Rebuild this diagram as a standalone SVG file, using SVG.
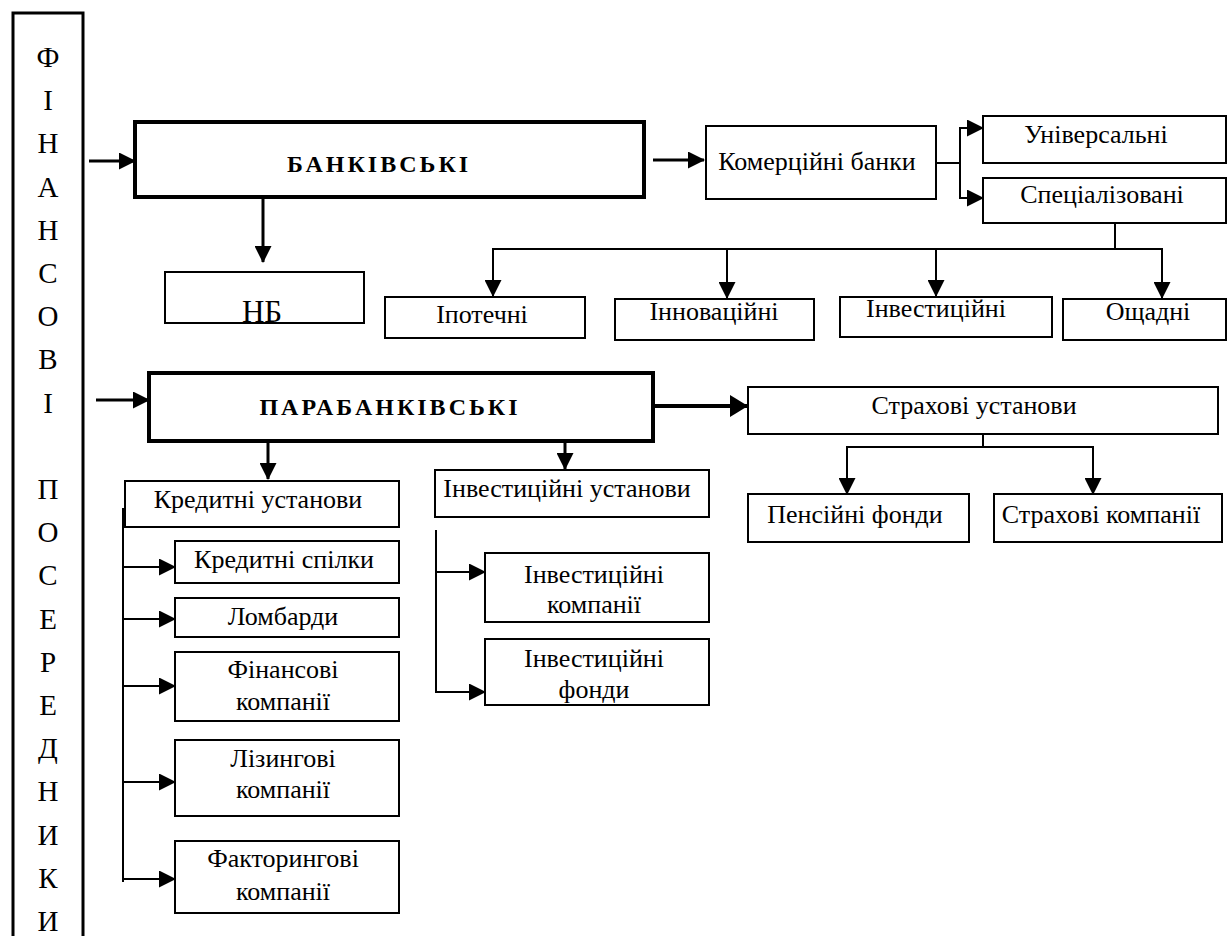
<svg xmlns="http://www.w3.org/2000/svg" width="1227" height="936" viewBox="0 0 1227 936">
<style>
.box{fill:#fff;stroke:#000;stroke-width:2}
.bbox{fill:#fff;stroke:#000;stroke-width:4}
text{font-family:'Liberation Serif','Times New Roman',Times,serif;font-size:26px;fill:#000;text-anchor:middle}
.h{font-weight:bold;font-size:24px;letter-spacing:3px}
.v{font-size:29px}
.nb{font-size:31px}
.ln{fill:none;stroke:#000;stroke-width:2}
.th{stroke-width:3}
.tk{stroke-width:4}
.a{marker-end:url(#ah)}
.ab{marker-end:url(#ahb)}
</style>
<defs>
<marker id="ah" markerUnits="userSpaceOnUse" markerWidth="17" markerHeight="17" refX="16" refY="8.5" orient="auto" viewBox="0 0 17 17"><path d="M0,0 L17,8.5 L0,17 z" fill="#000"/></marker>
<marker id="ahb" markerUnits="userSpaceOnUse" markerWidth="18" markerHeight="22" refX="17" refY="11" orient="auto" viewBox="0 0 18 22"><path d="M0,0 L18,11 L0,22 z" fill="#000"/></marker>
</defs>
<rect width="1227" height="936" fill="#fff"/>

<g id="finposerednyky" font-family="Liberation Serif, serif">
<rect x="13" y="13" width="70" height="1000" fill="#fff" stroke="#000" stroke-width="3"/>
<text class="v" x="48" y="67">Ф</text>
<text class="v" x="48" y="110">І</text>
<text class="v" x="48" y="153">Н</text>
<text class="v" x="48" y="197">А</text>
<text class="v" x="48" y="240">Н</text>
<text class="v" x="48" y="283">С</text>
<text class="v" x="48" y="326">О</text>
<text class="v" x="48" y="369">В</text>
<text class="v" x="48" y="413">І</text>
<text class="v" x="48" y="499">П</text>
<text class="v" x="48" y="542">О</text>
<text class="v" x="48" y="585">С</text>
<text class="v" x="48" y="629">Е</text>
<text class="v" x="48" y="672">Р</text>
<text class="v" x="48" y="715">Е</text>
<text class="v" x="48" y="758">Д</text>
<text class="v" x="48" y="801">Н</text>
<text class="v" x="48" y="845">И</text>
<text class="v" x="48" y="888">К</text>
<text class="v" x="48" y="931">И</text>
</g>

<g id="connectors">
<line class="ln th a" x1="89" y1="161" x2="135" y2="161"/>
<line class="ln th a" x1="96" y1="400" x2="149" y2="400"/>
<line class="ln th a" x1="263" y1="197" x2="263" y2="262"/>
<line class="ln th a" x1="653" y1="160" x2="704" y2="160"/>
<polyline class="ln" points="936,163 960,163"/>
<polyline class="ln" points="960,128 960,198"/>
<line class="ln a" x1="959" y1="128" x2="983" y2="128"/>
<line class="ln a" x1="959" y1="198" x2="983" y2="198"/>
<line class="ln" x1="1115" y1="223" x2="1115" y2="249"/>
<line class="ln" x1="492" y1="249" x2="1163" y2="249"/>
<line class="ln a" x1="493" y1="248" x2="493" y2="296"/>
<line class="ln a" x1="727" y1="248" x2="727" y2="298"/>
<line class="ln a" x1="936" y1="248" x2="936" y2="296"/>
<line class="ln a" x1="1162" y1="248" x2="1162" y2="298"/>
<line class="ln tk ab" x1="650" y1="406" x2="747" y2="406"/>
<line class="ln th a" x1="268" y1="441" x2="268" y2="479"/>
<line class="ln th a" x1="565" y1="434" x2="565" y2="469"/>
<line class="ln" x1="983" y1="434" x2="983" y2="447"/>
<line class="ln" x1="846" y1="447" x2="1094" y2="447"/>
<line class="ln a" x1="847" y1="446" x2="847" y2="494"/>
<line class="ln a" x1="1093" y1="446" x2="1093" y2="494"/>
<line class="ln" x1="123" y1="508" x2="123" y2="882"/>
<line class="ln a" x1="123" y1="567" x2="175" y2="567"/>
<line class="ln a" x1="123" y1="619" x2="175" y2="619"/>
<line class="ln a" x1="123" y1="686" x2="175" y2="686"/>
<line class="ln a" x1="123" y1="782" x2="175" y2="782"/>
<line class="ln a" x1="123" y1="879" x2="175" y2="879"/>
<line class="ln" x1="436" y1="530" x2="436" y2="693"/>
<line class="ln a" x1="436" y1="572" x2="485" y2="572"/>
<line class="ln a" x1="435" y1="692" x2="485" y2="692"/>
</g>

<g id="nodes" font-family="Liberation Serif, serif">
<g id="bankivski"><rect class="bbox" x="135" y="122" width="509" height="75"/><text class="h" x="379" y="172">БАНКІВСЬКІ</text></g>
<g id="nb"><rect class="box" x="165" y="272" width="199" height="51"/><text class="nb" x="262" y="322">НБ</text></g>
<g id="komertsiini"><rect class="box" x="706" y="126" width="230" height="73"/><text x="817" y="170">Комерційні банки</text></g>
<g id="universalni"><rect class="box" x="983" y="116" width="243" height="47"/><text x="1096" y="143">Універсальні</text></g>
<g id="spetsializovani"><rect class="box" x="983" y="178" width="243" height="45"/><text x="1102" y="203">Спеціалізовані</text></g>
<g id="ipotechni"><rect class="box" x="385" y="297" width="200" height="41"/><text x="482" y="323">Іпотечні</text></g>
<g id="innovatsiini"><rect class="box" x="615" y="299" width="199" height="41"/><text x="714" y="320">Інноваційні</text></g>
<g id="investytsiini"><rect class="box" x="840" y="297" width="212" height="40"/><text x="936" y="317">Інвестиційні</text></g>
<g id="oshchadni"><rect class="box" x="1063" y="299" width="163" height="41"/><text x="1148" y="320">Ощадні</text></g>
<g id="parabankivski"><rect class="bbox" x="149" y="373" width="504" height="68"/><text class="h" x="390" y="415">ПАРАБАНКІВСЬКІ</text></g>
<g id="strakhovi-ustanovy"><rect class="box" x="748" y="387" width="470" height="47"/><text x="974" y="414">Страхові установи</text></g>
<g id="kredytni-ustanovy"><rect class="box" x="125" y="481" width="274" height="46"/><text x="258" y="508">Кредитні установи</text></g>
<g id="investytsiini-ustanovy"><rect class="box" x="435" y="470" width="274" height="47"/><text x="567" y="497">Інвестиційні установи</text></g>
<g id="pensiini-fondy"><rect class="box" x="748" y="494" width="221" height="48"/><text x="855" y="523">Пенсійні фонди</text></g>
<g id="strakhovi-kompanii"><rect class="box" x="994" y="494" width="228" height="48"/><text x="1101" y="523">Страхові компанії</text></g>
<g id="kredytni-spilky"><rect class="box" x="175" y="541" width="224" height="42"/><text x="284" y="568">Кредитні спілки</text></g>
<g id="lombardy"><rect class="box" x="175" y="598" width="224" height="39"/><text x="283" y="625">Ломбарди</text></g>
<g id="finansovi-kompanii"><rect class="box" x="175" y="652" width="224" height="69"/><text x="283" y="678">Фінансові</text><text x="283" y="710">компанії</text></g>
<g id="lizynhovi-kompanii"><rect class="box" x="175" y="740" width="224" height="76"/><text x="283" y="767">Лізингові</text><text x="283" y="798">компанії</text></g>
<g id="faktorynhovi-kompanii"><rect class="box" x="175" y="841" width="224" height="72"/><text x="283" y="867">Факторингові</text><text x="283" y="900">компанії</text></g>
<g id="investytsiini-kompanii"><rect class="box" x="485" y="553" width="224" height="69"/><text x="594" y="583">Інвестиційні</text><text x="594" y="613">компанії</text></g>
<g id="investytsiini-fondy"><rect class="box" x="485" y="639" width="224" height="66"/><text x="594" y="667">Інвестиційні</text><text x="594" y="698">фонди</text></g>
</g>
</svg>
